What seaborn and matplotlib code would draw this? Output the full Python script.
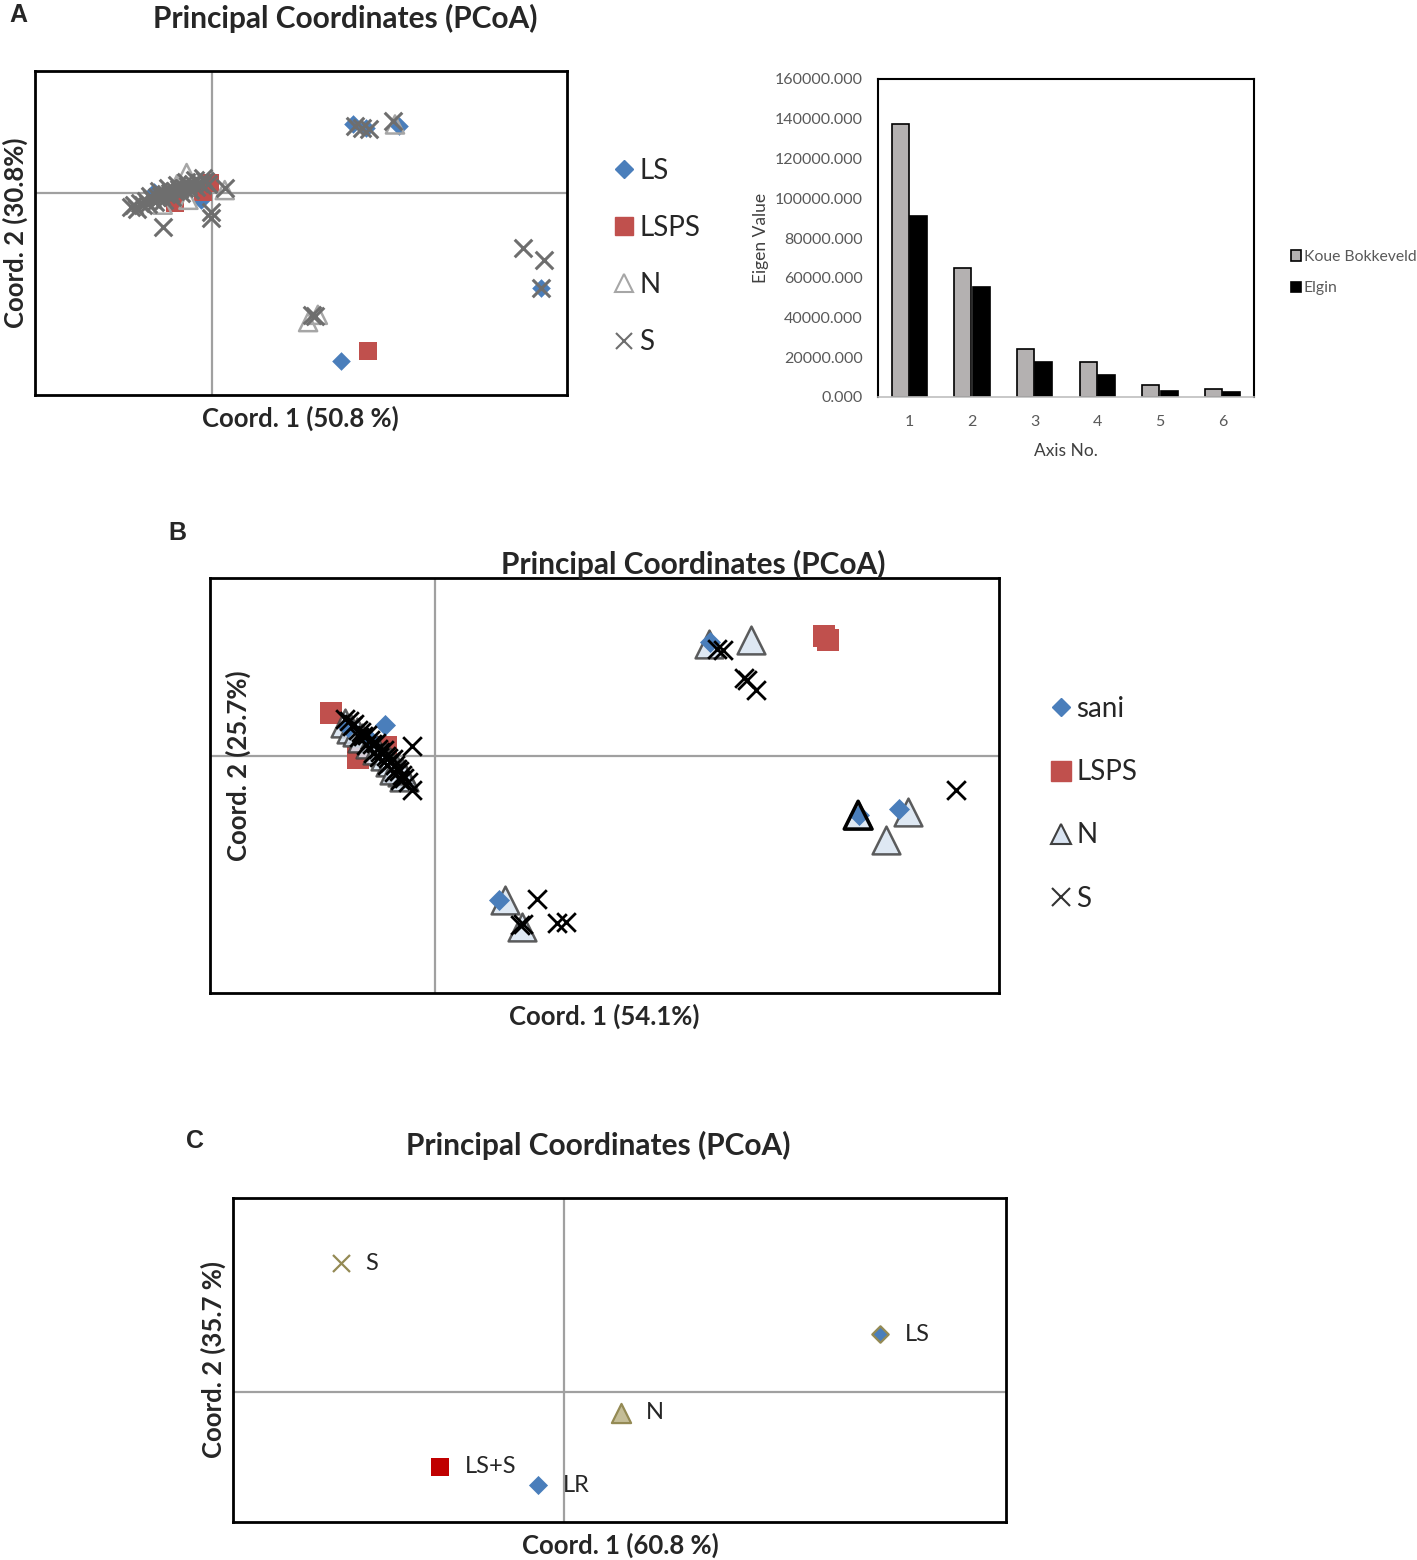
import numpy as np
import pandas as pd
import matplotlib
matplotlib.use("Agg")
import matplotlib.pyplot as plt
from matplotlib.lines import Line2D
import seaborn as sns

# ---- data ----
# panel A scatter
a_ls_x = [-0.066, -0.013, -0.040, 0.159, 0.173, 0.211, 0.371, 0.145]
a_ls_y = [0.001, -0.009, -0.005, 0.084, 0.080, 0.082, -0.118, -0.208]
a_lsps_x = [-0.042, -0.003, -0.011, 0.176]
a_lsps_y = [-0.013, 0.012, 0.001, -0.196]
a_n_x = [-0.029, -0.027, -0.056, -0.040, 0.014, 0.108, 0.119, 0.206]
a_n_y = [0.024, -0.009, -0.015, 0.010, 0.003, -0.160, -0.151, 0.084]
a_s_x = [-0.092, -0.088, -0.085, -0.082, -0.078, -0.075, -0.072, -0.068, -0.065,
         -0.062, -0.058, -0.055, -0.052, -0.048, -0.045, -0.042, -0.038, -0.035,
         -0.032, -0.028, -0.025, -0.022, -0.018, -0.015, -0.012, -0.008, -0.005,
         -0.070, -0.060, -0.050, -0.040, -0.030, -0.020, -0.010,
         -0.056, -0.002, -0.001, 0.014, 0.161, 0.169, 0.177, 0.204,
         0.350, 0.374, 0.371, 0.112, 0.116]
a_s_y = [-0.018, -0.015, -0.020, -0.013, -0.016, -0.010, -0.014, -0.008, -0.012,
         -0.006, -0.004, -0.009, -0.002, 0.000, -0.005, 0.002, 0.004, -0.001,
         0.006, 0.008, 0.003, 0.010, 0.007, 0.012, 0.009, 0.014, 0.011,
         -0.004, 0.002, 0.005, 0.009, 0.013, 0.016, 0.018,
         -0.042, -0.032, -0.024, 0.005, 0.082, 0.080, 0.078, 0.088,
         -0.069, -0.083, -0.118, -0.151, -0.153]

# panel A eigen values
axis_no = ["1", "2", "3", "4", "5", "6"]
koue_bokkeveld = [137200, 65100, 24000, 17800, 5900, 3900]
elgin = [91300, 55400, 17500, 10900, 3200, 2700]

# panel B scatter
b_sani_x = [-0.045, -0.078, -0.060, 0.244, 0.056, 0.376, 0.411]
b_sani_y = [0.052, 0.049, 0.030, 0.192, -0.243, -0.100, -0.090]
b_lsps_x = [-0.093, -0.044, -0.069, 0.345, 0.348]
b_lsps_y = [0.0725, 0.015, -0.004, 0.203, 0.195]
b_n_x = [-0.080, -0.075, -0.070, -0.065, -0.058, -0.052, -0.045, -0.040, -0.035,
         -0.030, -0.028, -0.037, 0.243, 0.280, 0.375, 0.419, 0.400, 0.062, 0.077]
b_n_y = [0.055, 0.045, 0.040, 0.030, 0.020, 0.010, 0.000, -0.010, -0.020,
         -0.028, -0.035, -0.024, 0.189, 0.195, -0.100, -0.094, -0.142, -0.243, -0.288]
b_s_x = [-0.080, -0.077, -0.074, -0.072, -0.069, -0.066, -0.064, -0.061, -0.058,
         -0.056, -0.053, -0.051, -0.049, -0.046, -0.044, -0.042, -0.040, -0.038,
         -0.036, -0.034, -0.032, -0.030, -0.028, -0.024, -0.021, -0.021,
         -0.068, -0.062, -0.055, -0.050, -0.043, -0.037, -0.031,
         0.250, 0.255, 0.274, 0.276, 0.284, 0.462, 0.090, 0.075, 0.078, 0.108, 0.116]
b_s_y = [0.062, 0.058, 0.050, 0.054, 0.044, 0.040, 0.034, 0.036, 0.026,
         0.020, 0.022, 0.012, 0.006, 0.010, 0.000, -0.004, -0.010, -0.006,
         -0.016, -0.022, -0.026, -0.032, -0.038, -0.044, -0.058, 0.016,
         0.032, 0.018, 0.004, -0.002, -0.016, -0.028, -0.040,
         0.180, 0.178, 0.132, 0.128, 0.111, -0.058, -0.241, -0.286, -0.283, -0.282, -0.280]

# panel C scatter
c_labels = ["S", "LS", "N", "LS+S", "LR"]
c_x = [-0.2025, 0.286, 0.0515, -0.113, -0.0237]
c_y = [0.199, 0.090, -0.0315, -0.115, -0.1436]

W, H = 1417, 1560


def rect(l, t, r, b):
    return [l / W, 1 - b / H, (r - l) / W, (b - t) / H]


def fx(px):
    return px / W


def fy(py):
    return 1 - py / H


sns.set_style("white")
plt.rcParams["font.family"] = ["Lato", "DejaVu Sans"]

fig = plt.figure(figsize=(W / 100, H / 100), dpi=100)

BLUE = "#4a7ebb"
RED = "#c0504d"
GREY_X = "#6e6e6e"
TITLE_FS = 21.5
LABEL_FS = 18.5


def frame(ax, xlim, ylim):
    ax.set_xlim(*xlim)
    ax.set_ylim(*ylim)
    ax.set_xticks([])
    ax.set_yticks([])
    ax.set_xlabel("")
    ax.set_ylabel("")
    for sp in ax.spines.values():
        sp.set_visible(True)
        sp.set_color("black")
        sp.set_linewidth(2)
    ax.axhline(0, color="#a0a0a0", lw=1.6, zorder=1)
    ax.axvline(0, color="#a0a0a0", lw=1.6, zorder=1)


# ---------------- panel A scatter ----------------
axa = fig.add_axes(rect(35, 71, 567, 395))
sns.scatterplot(x=a_ls_x, y=a_ls_y, marker="D", s=90, color=BLUE, edgecolor=BLUE,
                linewidth=0, ax=axa, zorder=3)
sns.scatterplot(x=a_lsps_x, y=a_lsps_y, marker="s", s=160, color=RED, edgecolor=RED,
                linewidth=0, ax=axa, zorder=3)
sns.scatterplot(x=a_n_x, y=a_n_y, marker="^", s=170, facecolor="none", edgecolor="#a6a6a6",
                linewidth=1.8, ax=axa, zorder=4)
sns.scatterplot(x=a_s_x, y=a_s_y, marker="x", s=160, color=GREY_X,
                linewidth=2.2, ax=axa, zorder=5)
frame(axa, (-0.2, 0.4), (-0.25, 0.15))

handles_a = [
    Line2D([], [], ls="", marker="D", ms=9, color=BLUE, mec=BLUE),
    Line2D([], [], ls="", marker="s", ms=13, color=RED, mec=RED),
    Line2D([], [], ls="", marker="^", ms=13, mfc="none", mec="#a6a6a6", mew=1.5),
    Line2D([], [], ls="", marker="x", ms=12, color=GREY_X, mew=1.5),
]
fig.legend(handles_a, ["LS", "LSPS", "N", "S"], loc="upper left",
           bbox_to_anchor=(fx(586), fy(133)), frameon=False, fontsize=20,
           handlelength=0.9, handletextpad=0.12, labelspacing=1.12)

fig.text(fx(345), fy(18), "Principal Coordinates (PCoA)", ha="center", va="center",
         fontsize=TITLE_FS, fontweight="bold")
fig.text(fx(300), fy(418), "Coord. 1 (50.8 %)", ha="center", va="center",
         fontsize=LABEL_FS, fontweight="bold")
fig.text(fx(15), fy(233), "Coord. 2 (30.8%)", ha="center", va="center", rotation=90,
         fontsize=LABEL_FS, fontweight="bold")
fig.text(fx(18), fy(15), "A", ha="center", va="center", fontsize=18, fontweight="bold",
         family=["Liberation Sans", "DejaVu Sans"])

# ---------------- panel A eigenvalues ----------------
axb = fig.add_axes(rect(878, 79, 1254, 397))
eig = pd.DataFrame({
    "Axis No.": axis_no * 2,
    "Eigen Value": koue_bokkeveld + elgin,
    "site": ["Koue Bokkeveld"] * 6 + ["Elgin"] * 6,
})
sns.barplot(data=eig, x="Axis No.", y="Eigen Value", hue="site",
            palette=["#b4b1b1", "black"], edgecolor="black", linewidth=1.2,
            width=0.58, gap=0.06, ax=axb)
axb.set_ylim(0, 160000)
axb.set_yticks(np.arange(0, 160001, 20000))
axb.set_yticklabels([f"{v:.3f}" for v in np.arange(0, 160001, 20000)])
axb.tick_params(length=0, labelsize=11.5, colors="#595959")
axb.tick_params(axis="y", pad=11)
axb.tick_params(axis="x", pad=13)
axb.set_xlabel("Axis No.", fontsize=12.5, color="#404040", labelpad=10)
axb.set_ylabel("Eigen Value", fontsize=12.5, color="#404040", labelpad=4)
for name, sp in axb.spines.items():
    sp.set_visible(True)
    sp.set_color("black")
    sp.set_linewidth(1.5)
axb.spines["bottom"].set_color("#bfbfbf")
axb.spines["bottom"].set_linewidth(1.2)
axb.legend(loc="upper left", bbox_to_anchor=(fx(1277), fy(236)),
           bbox_transform=fig.transFigure, frameon=False, fontsize=11.3,
           handlelength=0.65, handleheight=0.65, handletextpad=0.15, labelspacing=1.1,
           labelcolor="#595959")

# ---------------- panel B ----------------
axc = fig.add_axes(rect(210, 578, 999, 993))
TRI_FILL = "#d9e4f2"
sns.scatterplot(x=b_sani_x, y=b_sani_y, marker="D", s=115, color=BLUE, edgecolor=BLUE,
                linewidth=0, ax=axc, zorder=4)
sns.scatterplot(x=b_lsps_x, y=b_lsps_y, marker="s", s=230, color=RED, edgecolor=RED,
                linewidth=0, ax=axc, zorder=3)
sns.scatterplot(x=b_n_x, y=b_n_y, marker="^", s=400, facecolor=TRI_FILL, edgecolor="#404040",
                linewidth=1.8, alpha=0.85, ax=axc, zorder=3.5)
sns.scatterplot(x=b_s_x, y=b_s_y, marker="x", s=180, color="black",
                linewidth=2.0, ax=axc, zorder=5)
sns.scatterplot(x=b_n_x[14:15], y=b_n_y[14:15], marker="^", s=400, facecolor="none",
                edgecolor="black", linewidth=2.5, ax=axc, zorder=6)
frame(axc, (-0.2, 0.5), (-0.4, 0.3))

handles_b = [
    Line2D([], [], ls="", marker="D", ms=9, color=BLUE, mec=BLUE),
    Line2D([], [], ls="", marker="s", ms=15, color=RED, mec=RED),
    Line2D([], [], ls="", marker="^", ms=15, mfc=TRI_FILL, mec="#404040", mew=1.5),
    Line2D([], [], ls="", marker="x", ms=13, color="#333333", mew=1.5),
]
fig.legend(handles_b, ["sani", "LSPS", "N", "S"], loc="upper left",
           bbox_to_anchor=(fx(1023), fy(671)), frameon=False, fontsize=20,
           handlelength=0.9, handletextpad=0.12, labelspacing=1.34)

fig.text(fx(693), fy(564), "Principal Coordinates (PCoA)", ha="center", va="center",
         fontsize=TITLE_FS, fontweight="bold")
fig.text(fx(604), fy(1016), "Coord. 1 (54.1%)", ha="center", va="center",
         fontsize=LABEL_FS, fontweight="bold")
fig.text(fx(238), fy(766), "Coord. 2 (25.7%)", ha="center", va="center", rotation=90,
         fontsize=LABEL_FS, fontweight="bold")
fig.text(fx(177), fy(533), "B", ha="center", va="center", fontsize=18, fontweight="bold",
         family=["Liberation Sans", "DejaVu Sans"])

# ---------------- panel C ----------------
axd = fig.add_axes(rect(233, 1198, 1006, 1522))
OLIVE = "#948a54"
c_styles = {
    "S": dict(marker="x", s=150, color=OLIVE, linewidth=1.6),
    "LS": dict(marker="D", s=70, color=BLUE, edgecolor=OLIVE, linewidth=1.6),
    "N": dict(marker="^", s=190, color="#c4bd97", edgecolor=OLIVE, linewidth=1.6),
    "LS+S": dict(marker="s", s=150, color="#c00000", edgecolor="#c00000", linewidth=0),
    "LR": dict(marker="D", s=95, color=BLUE, edgecolor=BLUE, linewidth=0),
}
for lab, x, y in zip(c_labels, c_x, c_y):
    sns.scatterplot(x=[x], y=[y], ax=axd, zorder=3, **c_styles[lab])
    axd.annotate(lab, (x, y), xytext=(18, 0), textcoords="offset points",
                 ha="left", va="center", fontsize=17)
frame(axd, (-0.3, 0.4), (-0.2, 0.3))

fig.text(fx(598), fy(1145), "Principal Coordinates (PCoA)", ha="center", va="center",
         fontsize=TITLE_FS, fontweight="bold")
fig.text(fx(620), fy(1545), "Coord. 1 (60.8 %)", ha="center", va="center",
         fontsize=LABEL_FS, fontweight="bold")
fig.text(fx(213), fy(1360), "Coord. 2 (35.7 %)", ha="center", va="center", rotation=90,
         fontsize=LABEL_FS, fontweight="bold")
fig.text(fx(195), fy(1141), "C", ha="center", va="center", fontsize=18, fontweight="bold",
         family=["Liberation Sans", "DejaVu Sans"])

fig.savefig("out.png", dpi=100)
